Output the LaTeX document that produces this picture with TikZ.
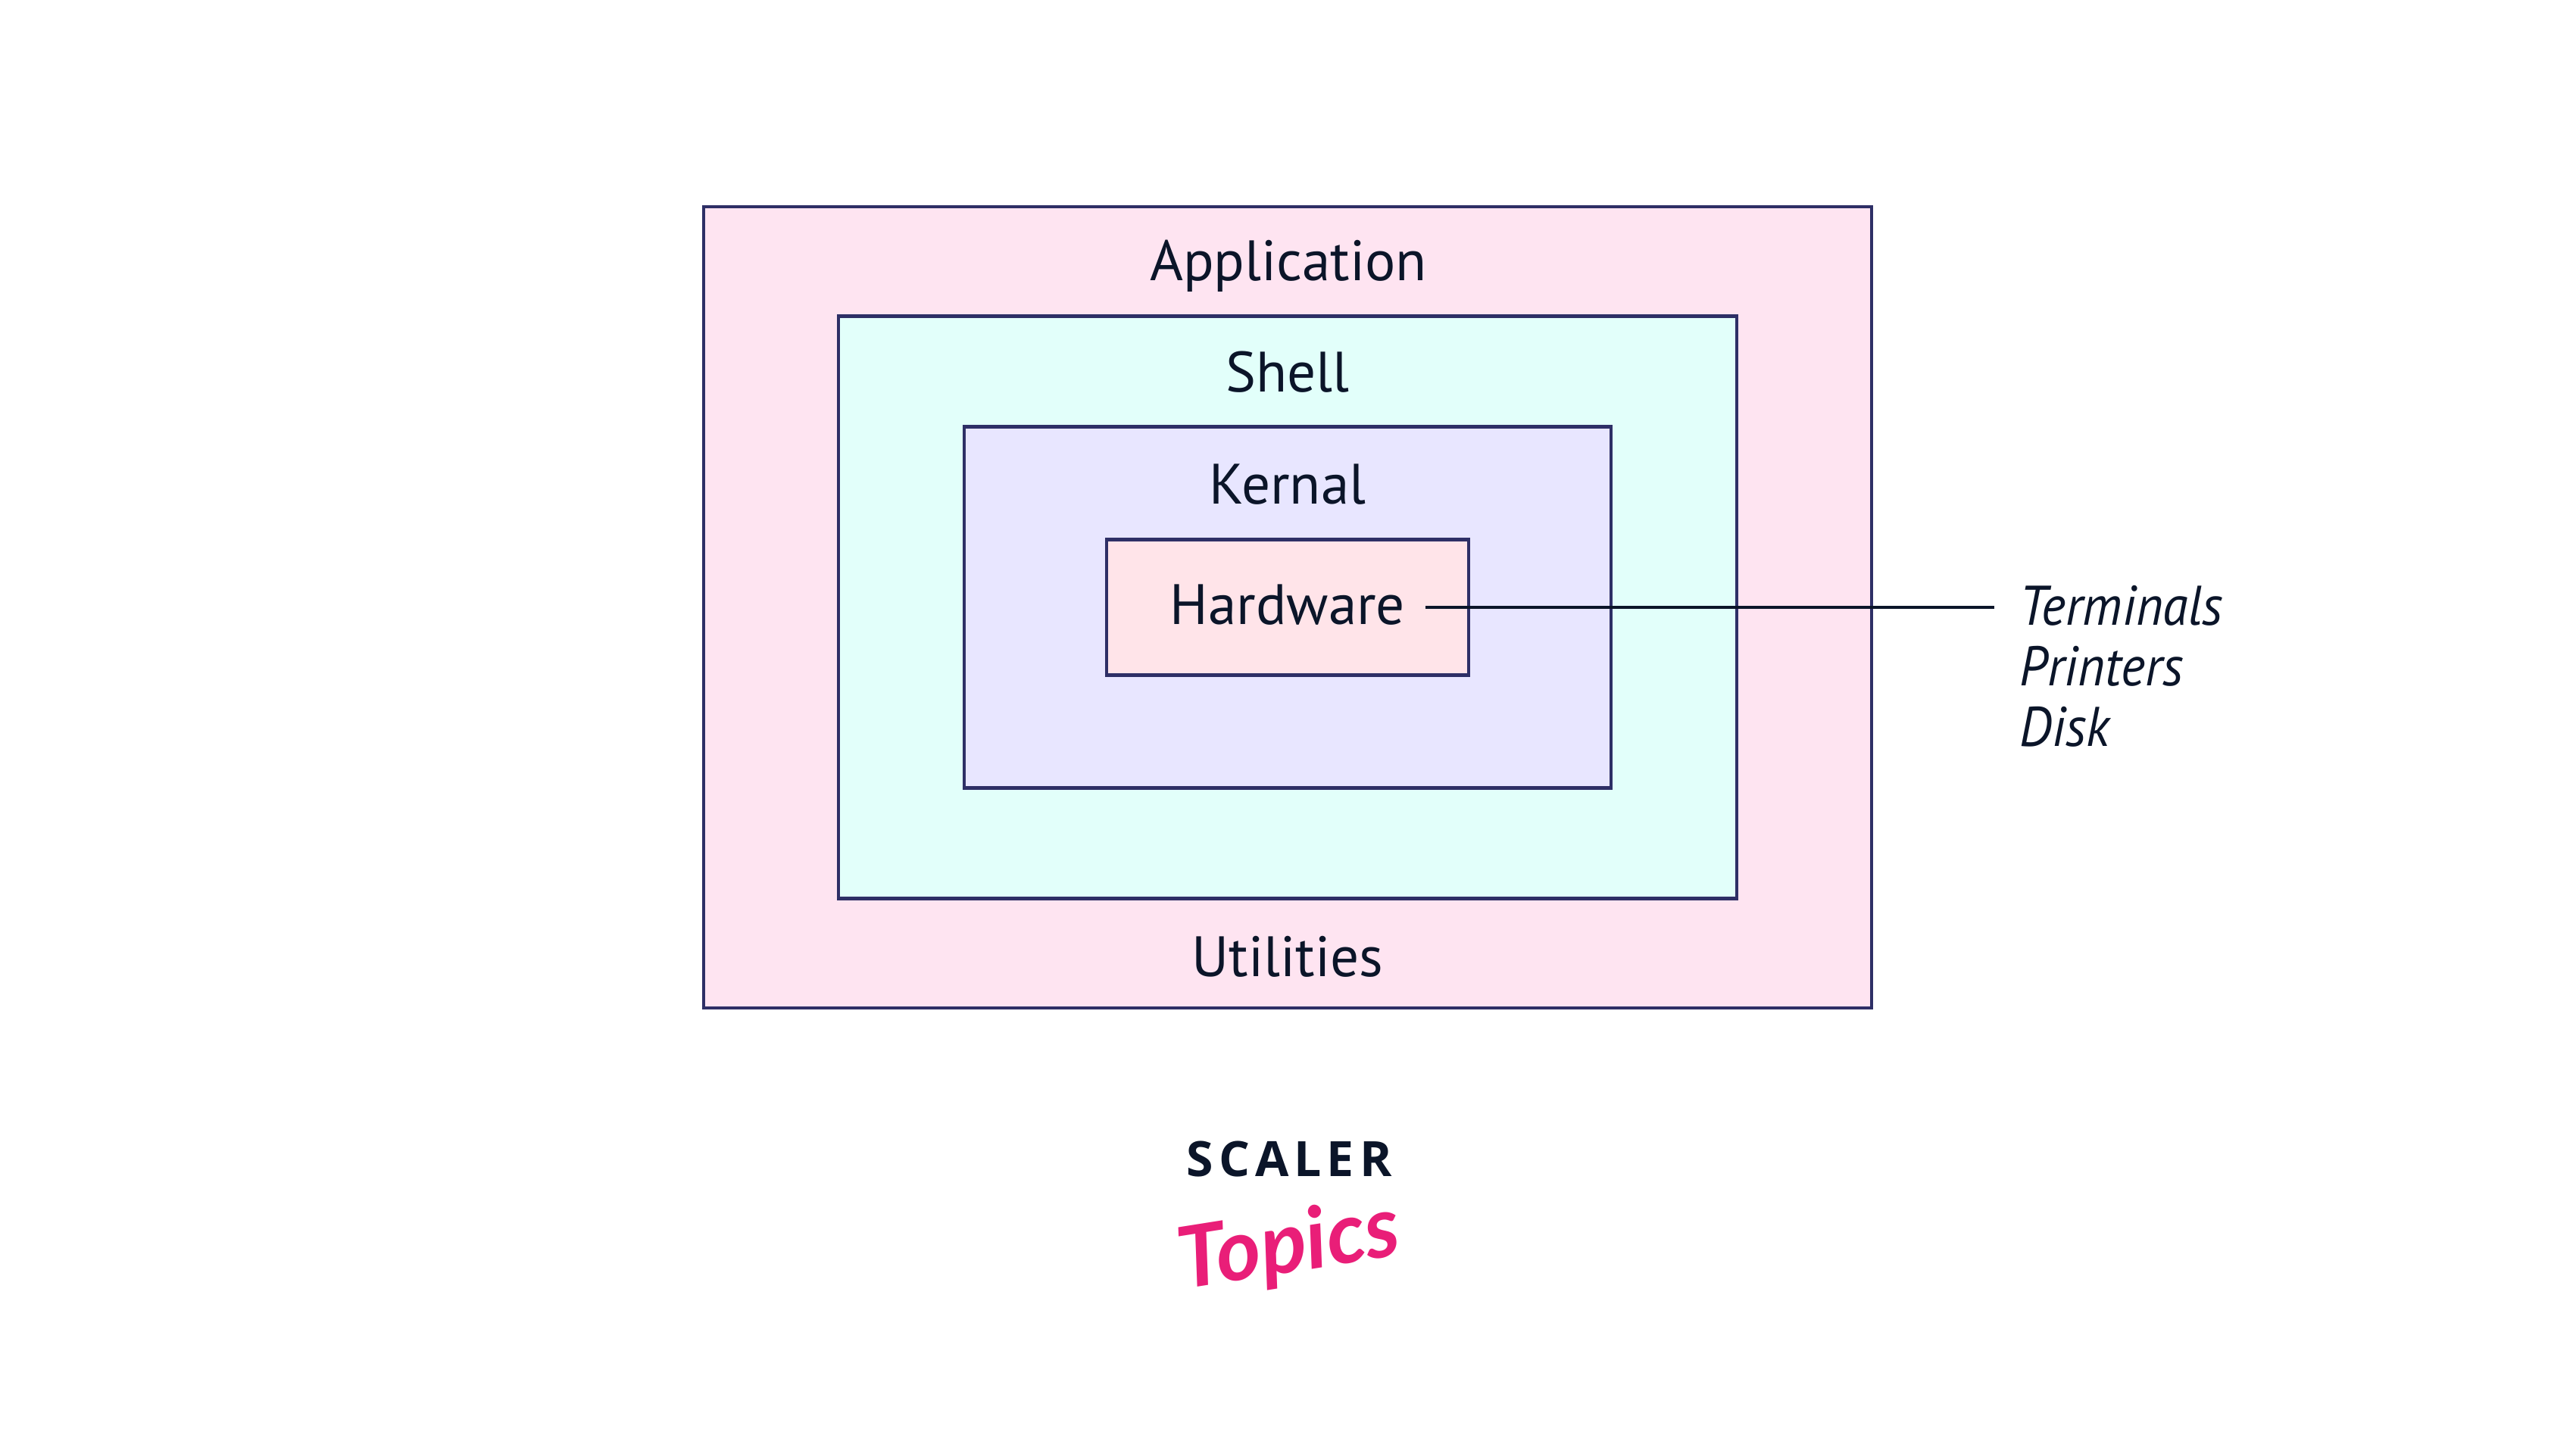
\documentclass[tikz,border=0pt]{standalone}
\usepackage{fontspec}
\usepackage{xcolor}
\setmainfont{PT Sans}
\newfontfamily\devicefont[FakeStretch=0.93]{PT Sans}
\newfontfamily\scalerfont[LetterSpace=11]{Open Sans}
\newfontfamily\topicsfont{Lato}
\definecolor{borderblue}{HTML}{2E2F66}
\definecolor{inkblue}{HTML}{0B1529}
\definecolor{applicationpink}{HTML}{FEE4F1}
\definecolor{shellmint}{HTML}{E2FFFA}
\definecolor{kernallilac}{HTML}{E8E6FF}
\definecolor{hardwarerose}{HTML}{FFE4E9}
\definecolor{topicspink}{HTML}{E91E78}
\tikzset{
    layerbox/.style={draw=borderblue, line width=0.043cm, inner sep=0pt},
    layerlabel/.style={font=\fontsize{21.4}{25}\selectfont, text=inkblue, anchor=base, inner sep=0pt},
    devicetext/.style={font=\devicefont\fontsize{21}{25}\itshape\selectfont, text=inkblue, anchor=west,
        inner ysep=0pt, inner xsep=0.33cm, text height=0.48cm, text depth=0pt},
}

\begin{document}
\begin{tikzpicture}
    \useasboundingbox (0, 0) rectangle (34.01, 19.2);

    % nested layers
    \node[layerbox, fill=applicationpink, minimum width=15.42cm, minimum height=10.58cm] (application) at (17, 11.18) {};
    \node[layerbox, fill=shellmint, minimum width=11.86cm, minimum height=7.69cm] (shell) at (17, 11.18) {};
    \node[layerbox, fill=kernallilac, minimum width=8.54cm, minimum height=4.77cm] (kernal) at (17, 11.18) {};
    \node[layerbox, fill=hardwarerose, minimum width=4.78cm, minimum height=1.79cm] (hardware) at (17, 11.18) {};

    % layer names
    \node[layerlabel] (applicationlabel) at (17.01, 15.49) {Application};
    \node[layerlabel] (shelllabel) at (17, 14.02) {Shell};
    \node[layerlabel] (kernallabel) at (17, 12.54) {Kernal};
    \node[layerlabel] (utilitieslabel) at (17, 6.30) {Utilities};
    \node[layerlabel, anchor=center, inner xsep=0.265cm, text height=0.46cm, text depth=0pt] (hardwarelabel) at (17, 11.18) {Hardware};

    % devices
    \node[devicetext] (terminals) at (26.33, 11.18) {Terminals};
    \node[devicetext] (printers) at (26.33, 10.38) {Printers};
    \node[devicetext] (disk) at (26.33, 9.58) {Disk};
    \draw[inkblue, line width=0.04cm] (hardwarelabel.east) -- (terminals.west);

    % logo
    \node[font=\scalerfont\bfseries\fontsize{18.3}{20}\selectfont, text=inkblue, inner sep=0pt] (scaler) at (17.02, 3.89) {SCALER};
    \node[font=\topicsfont\bfseries\itshape\fontsize{32}{34}\selectfont, text=topicspink, inner sep=0pt, rotate=9] (topics) at (17.02, 2.72) {Topics};
\end{tikzpicture}
\end{document}
